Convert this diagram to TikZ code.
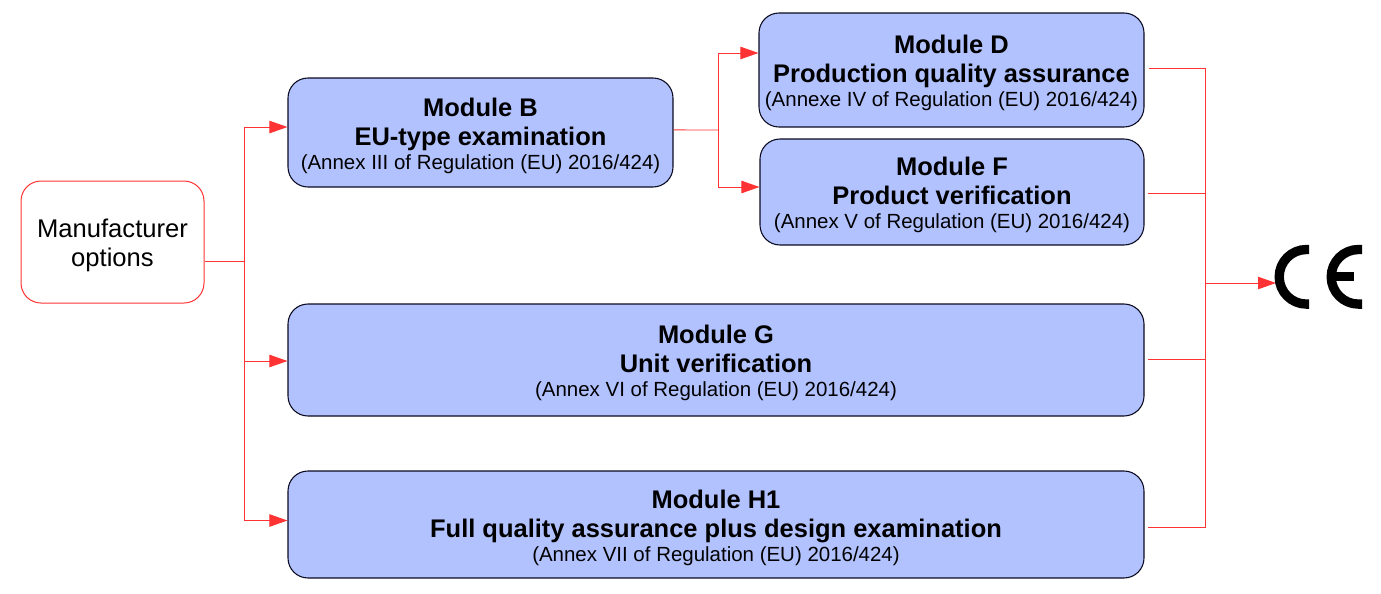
\documentclass[tikz,border=0pt]{standalone}
\usepackage{fontspec}
\setmainfont{Liberation Sans}
\usetikzlibrary{arrows.meta}
\definecolor{modfill}{HTML}{B2C2FF}
\definecolor{wirered}{HTML}{FF3333}
\definecolor{edgedark}{HTML}{0A0A20}
% three centred lines with fixed baseline distances, whatever their letters
\newcommand{\modtext}[3]{%
  \baselineskip=0pt\lineskip=0pt\lineskiplimit=0pt
  \rule[-6pt]{0pt}{25.25pt}{\fontsize{19.1pt}{21pt}\bfseries\selectfont #1}\\
  \rule[-5pt]{0pt}{19.75pt}{\fontsize{19.1pt}{21pt}\bfseries\selectfont #2}\\
  \rule[-4pt]{0pt}{16pt}{\fontsize{15.35pt}{18pt}\selectfont #3}}
\tikzset{
  modbox/.style 2 args={draw=edgedark, fill=modfill, line width=0.8pt, rounded corners=15pt,
    align=center, inner sep=0pt, minimum width=#1*0.75pt, minimum height=#2*0.75pt},
  startbox/.style={draw=wirered, fill=white, line width=0.75pt, rounded corners=15pt,
    align=center, inner sep=0pt, minimum width=183*0.75pt, minimum height=122*0.75pt,
    font=\fontsize{19.2pt}{21.8pt}\selectfont},
  wire/.style={draw=wirered, line width=0.72pt},
  feed/.style={wire, -{Triangle[length=13.5pt,width=9.3pt,fill=wirered]}},
  cestroke/.style={line width=7pt, draw=black, line cap=butt}
}
\begin{document}
\begin{tikzpicture}[x=0.75pt,y=-0.75pt]
\useasboundingbox (0,0) rectangle (1381,593);
% starting point and certification modules
\node[startbox] (man) at (112.5,242) {\rule{0pt}{18.5pt}Manufacturer\\options};
\node[modbox={385}{109}] (b) at (480.5,132.5) {\modtext{Module B}{EU-type examination}{(Annex III of Regulation (EU) 2016/424)}};
\node[modbox={385}{114}] (d) at (951.5,70) {\modtext{Module D}{Production quality assurance}{(Annexe IV of Regulation (EU) 2016/424)}};
\node[modbox={384}{106}] (f) at (952,192) {\modtext{Module F}{Product verification}{(Annex V of Regulation (EU) 2016/424)}};
\node[modbox={856}{112}] (g) at (716,360) {\modtext{Module G}{Unit verification}{(Annex VI of Regulation (EU) 2016/424)}};
\node[modbox={856}{107}] (h) at (716,524.5) {\modtext{Module H1}{Full quality assurance plus design examination}{(Annex VII of Regulation (EU) 2016/424)}};
% junction points on the connector trunks
\coordinate (jl) at (244,261);
\coordinate (jm) at (718,130);
\coordinate (jr) at (1205,283);
\coordinate (ce) at (1276,283);
% manufacturer options to the first modules
\draw[wire] ([yshift=-14.25pt]man.east) -- (jl);
\draw[feed] (jl) |- ([yshift=4.1pt]b.west);
\draw[feed] (jl) |- ([yshift=-0.75pt]g.west);
\draw[feed] (jl) |- ([yshift=3pt]h.west);
% module B to the production-phase modules
\draw[wire] ([yshift=1.9pt]b.east) -- (jm);
\draw[feed] (jm) |- ([yshift=12.75pt]d.west);
\draw[feed] (jm) |- ([yshift=3.75pt]f.west);
% modules to the CE marking
\draw[wire] ([xshift=3pt,yshift=1.5pt]d.east) -| (jr);
\draw[wire] ([xshift=2.25pt,yshift=-0.75pt]f.east) -| (jr);
\draw[wire] ([xshift=2.25pt,yshift=0.75pt]g.east) -| (jr);
\draw[wire] ([xshift=2.25pt,yshift=-2.6pt]h.east) -| (jr);
\draw[feed] (jr) -- (ce);
% CE marking
\draw[cestroke] (1309,249.5) -- (1306.5,249.5) arc[start angle=-90,end angle=-270,radius=27.3] -- (1309,304.1);
\draw[cestroke] (1362,249.5) -- (1358.5,249.5) arc[start angle=-90,end angle=-270,radius=27.3] -- (1362,304.1);
\draw[line width=6.6pt, draw=black] (1335,276.5) -- (1354,276.5);
\end{tikzpicture}
\end{document}
